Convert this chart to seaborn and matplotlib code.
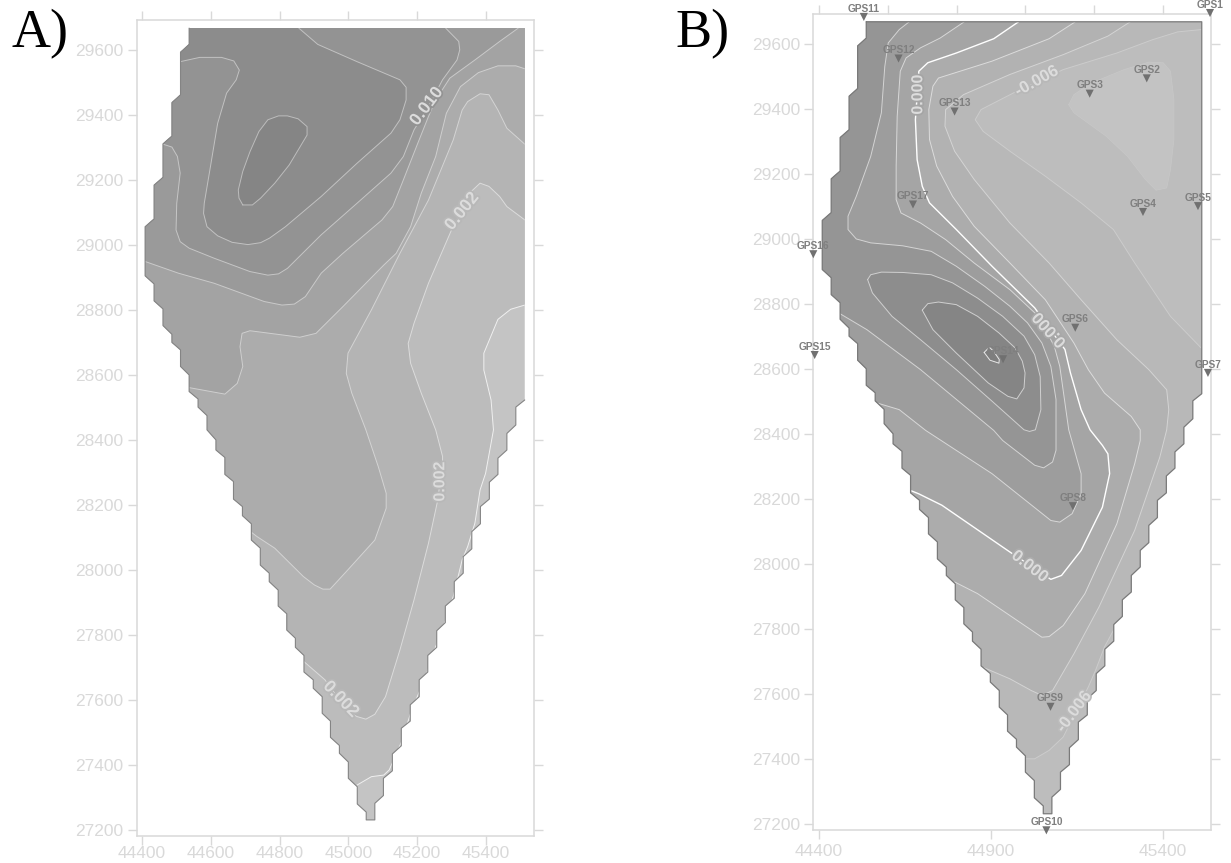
import matplotlib
matplotlib.use('Agg')
import matplotlib.pyplot as plt
import matplotlib.patheffects as pe
from matplotlib.patches import Polygon
import pandas as pd
import seaborn as sns

# staircase outline of the grid, same for both maps
domain = [(44537,29667),(44537,29617),(44512,29593),(44512,29462),(44487,29438),(44487,29335),(44461,29311),(44461,29208),
          (44435,29184),(44435,29080),(44409,29056),(44409,28905),(44435,28880),(44435,28828),(44461,28803),(44461,28752),
          (44487,28725),(44487,28700),(44512,28677),(44512,28626),(44537,28600),(44537,28549),(44563,28526),(44563,28501),
          (44589,28475),(44589,28431),(44615,28400),(44615,28369),(44641,28346),(44641,28294),(44666,28272),(44666,28218),
          (44692,28195),(44692,28167),(44718,28142),(44718,28092),(44744,28067),(44744,28015),(44770,27990),(44770,27964),
          (44796,27938),(44796,27889),(44821,27865),(44821,27815),(44846,27790),(44846,27762),(44871,27737),(44871,27686),
          (44898,27662),(44898,27636),(44924,27610),(44924,27559),(44948,27535),(44948,27485),(44974,27460),(44974,27436),
          (45000,27409),(45000,27359),(45026,27333),(45026,27280),(45052,27255),(45052,27231),(45077,27231),(45077,27282),
          (45102,27306),(45102,27359),(45128,27382),(45128,27434),(45154,27459),(45154,27513),(45180,27535),(45180,27585),
          (45206,27610),(45206,27662),(45231,27686),(45231,27737),(45257,27762),(45257,27813),(45282,27838),(45282,27889),
          (45308,27913),(45308,27964),(45334,27990),(45334,28041),(45359,28065),(45359,28118),(45384,28142),(45384,28195),
          (45410,28218),(45410,28270),(45435,28294),(45435,28344),(45461,28369),(45461,28420),(45487,28446),(45487,28501),
          (45513,28523),(45513,29667)]

# panel A contours
a1 = [(44693,29123),(44721,29123),(44745,29144),(44786,29190),(44828,29246),(44854,29292),(44880,29338),(44880,29364),
      (44854,29388),(44823,29397),(44797,29397),(44766,29385),(44740,29349),(44714,29287),(44693,29226),(44680,29169),
      (44682,29144),(44693,29123)]
a2 = [(44856,29667),(44911,29617),(45025,29564),(45150,29508),(45168,29485),(45168,29446),(45150,29385),(45124,29344),
      (45025,29251),(44921,29149),(44817,29056),(44771,29021),(44745,29007),(44708,29001),(44662,29008),(44620,29028),
      (44589,29056),(44579,29097),(44581,29128),(44599,29241),(44620,29374),(44646,29467),(44674,29508),(44683,29538),
      (44667,29566),(44631,29577),(44568,29577),(44512,29564)]
a3 = [(45283,29667),(45321,29626),(45324,29600),(45316,29569),(45274,29508),(45233,29426),(45191,29354),(45160,29272),
      (45124,29221),(45025,29128),(44921,29031),(44823,28928),(44797,28911),(44766,28907),(44714,28918),(44610,28959),
      (44537,28990),(44511,29010),(44499,29046),(44501,29128),(44511,29221),(44503,29272),(44487,29301),(44461,29310)]
a4 = [(45494,29667),(45440,29626),(45368,29569),(45295,29513),(45254,29446),(45233,29395),(45202,29313),(45160,29200),
      (45129,29118),(45098,29077),(44984,28974),(44921,28913),(44875,28841),(44843,28818),(44807,28815),(44755,28826),
      (44610,28882),(44506,28913),(44409,28949)]
a5 = [(45513,29542),(45487,29551),(45435,29551),(45378,29530),(45326,29487),(45285,29405),(45254,29272),(45212,29159),
      (45181,29056),(45139,28974),(45103,28938),(44984,28810),(44906,28728),(44859,28716),(44714,28736),(44691,28728),
      (44685,28687),(44693,28626),(44677,28574),(44641,28541),(44537,28561)]
a6 = [(45513,29310),(45461,29359),(45435,29415),(45409,29462),(45383,29465),(45347,29441),(45331,29415),(45305,29323),
      (45233,29138),(45150,28974),(45067,28800),(44999,28667),(44994,28605),(45010,28544),(45051,28431),(45087,28318),
      (45110,28236),(45110,28190),(45077,28092),(44994,27995),(44947,27941),(44926,27941),(44901,27954),(44869,27980),
      (44786,28067),(44734,28103),(44718,28116)]
a7 = [(45513,29077),(45461,29118),(45440,29149),(45409,29180),(45383,29190),(45357,29164),(45337,29118),(45300,29046),
      (45233,28882),(45191,28759),(45174,28697),(45181,28636),(45212,28544),(45254,28431),(45274,28349),(45274,28328),
      (45259,28210),(45233,28082),(45191,27908),(45150,27754),(45108,27610),(45077,27556),(45051,27541),(45025,27549),
      (44999,27564),(44932,27662),(44871,27718)]
a8 = [(45513,28815),(45472,28802),(45435,28771),(45394,28667),(45394,28615),(45415,28523),(45422,28431),(45415,28390),
      (45399,28297),(45383,28246),(45368,28144),(45347,28072),(45331,28031),(45305,27918),(45280,27836),(45254,27764),
      (45228,27682),(45181,27559),(45155,27472),(45119,27385),(45103,27369),(45067,27364),(45025,27338)]

# panel B contours
b1 = [(44880,28650),(44895,28666),(44908,28653),(44924,28628),(44923,28617),(44897,28626),(44880,28650)]
b2 = [(44700,28780),(44716,28800),(44747,28805),(44799,28797),(44861,28761),(44923,28710),(44970,28664),(44991,28623),
      (44999,28587),(44996,28541),(44975,28507),(44949,28515),(44892,28556),(44799,28648),(44731,28720),(44700,28780)]
b3 = [(44541,28874),(44550,28889),(44581,28897),(44643,28896),(44726,28889),(44788,28864),(44861,28817),(44934,28761),
      (44996,28700),(45027,28643),(45043,28576),(45045,28474),(45029,28412),(45012,28407),(44996,28412),(44903,28500),
      (44799,28597),(44695,28689),(44612,28761),(44555,28833),(44541,28874)]
b4 = [(44662,29667),(44633,29643),(44601,29602),(44591,29530),(44581,29387),(44550,29253),(44508,29130),(44484,29069),
      (44484,29028),(44508,28999),(44550,28987),(44643,28978),(44726,28961),(44799,28915),(44882,28853),(44955,28792),
      (45006,28741),(45048,28679),(45074,28607),(45089,28505),(45089,28412),(45089,28349),(45079,28313),(45053,28295),
      (45027,28303),(44934,28379),(44908,28410),(44695,28597),(44539,28720),(44461,28769)]
b5 = [(44822,29667),(44752,29617),(44695,29587),(44653,29556),(44636,29515),(44627,29376),(44624,29223),(44624,29120),
      (44638,29079),(44695,29048),(44768,28997),(44851,28925),(44955,28843),(45038,28761),(45084,28669),(45100,28607),
      (45126,28412),(45162,28277),(45162,28215),(45136,28154),(45100,28128),(45074,28133),(44903,28277),(44710,28410),
      (44633,28474),(44570,28494)]
b6 = [(44980,29667),(44908,29615),(44799,29571),(44716,29541),(44690,29515),(44680,29366),(44685,29243),(44700,29161),
      (44721,29110),(44799,29028),(44903,28915),(45027,28787),(45115,28659),(45131,28587),(45162,28474),(45188,28412),
      (45224,28364),(45240,28338),(45245,28277),(45224,28174),(45162,28041),(45105,27964),(45074,27952),(44955,28036),
      (44757,28180),(44690,28215),(44669,28224)]
b7 = [(45145,29667),(45069,29615),(44903,29546),(44747,29494),(44731,29469),(44719,29397),(44721,29305),(44742,29223),
      (44788,29130),(44851,29038),(44955,28925),(45058,28812),(45141,28679),(45183,28597),(45230,28525),(45308,28453),
      (45334,28412),(45334,28379),(45318,28308),(45266,28123),(45173,27908),(45110,27810),(45069,27776),(45048,27774),
      (44861,27908),(44794,27944)]
b8 = [(45305,29667),(45240,29623),(45110,29566),(44955,29505),(44820,29443),(44768,29397),(44766,29346),(44794,29269),
      (44851,29182),(44955,29048),(45069,28925),(45162,28812),(45266,28689),(45359,28597),(45411,28535),(45417,28474),
      (45411,28412),(45391,28328),(45318,28103),(45214,27867),(45141,27723),(45079,27610),(45048,27595),(45017,27610),
      (44955,27646),(44871,27684)]
b9 = [(45511,29643),(45443,29636),(45370,29612),(45266,29571),(45110,29520),(44965,29448),(44871,29397),(44854,29366),
      (44877,29330),(44955,29269),(45058,29192),(45162,29110),(45256,29028),(45318,28925),(45422,28761),(45511,28664)]
b10 = [(45001,27400),(45027,27400),(45069,27426),(45110,27467),(45183,27621),(45204,27672),(45230,27744),(45256,27795)]
b11 = [(45126,29412),(45141,29443),(45193,29479),(45287,29520),(45359,29543),(45401,29541),(45422,29515),(45432,29428),
       (45432,29305),(45422,29212),(45411,29156),(45380,29149),(45349,29182),(45297,29253),(45235,29315),(45141,29387),
       (45126,29412)]

# stations
gps_names = ['GPS1','GPS2','GPS3','GPS4','GPS5','GPS6','GPS7','GPS8','GPS9','GPS10','GPS11','GPS12','GPS13','GPS14','GPS15','GPS16','GPS17']
gps_x = [45537,45353,45187,45342,45502,45145,45531,45138,45073,45061,44530,44631,44794,44935,44387,44383,44673]
gps_y = [29694,29493,29446,29082,29100,28726,28587,28177,27560,27180,29682,29554,29391,28629,28642,28952,29105]

x_ticks_a = [44400,44600,44800,45000,45200,45400]
x_ticks_b = [44400,44900,45400]
y_ticks = [27200,27400,27600,27800,28000,28200,28400,28600,28800,29000,29200,29400,29600]

TICK = '#d9d9d9'
FAR_L, FAR_R, FAR_T = 44300, 45650, 29800

sns.set_theme(style='ticks')
plt.rcParams['font.family'] = ['Liberation Sans', 'DejaVu Sans']

fig = plt.figure(figsize=(12.31, 8.63), dpi=100)
W, H = 1231, 863
ax_a = fig.add_axes([136.5/W, 1-836/H, 397.2/W, 816/H])
ax_b = fig.add_axes([813.3/W, 1-830/H, 397.4/W, 816/H])


def setup(ax, xlim, ylim, xticks, xpad):
    ax.set_xlim(*xlim)
    ax.set_ylim(*ylim)
    ax.set_xticks(xticks)
    ax.set_yticks(y_ticks)
    ax.tick_params(length=6.5, width=1, color=TICK, labelcolor=TICK, labelsize=12.5, right=True, pad=3)
    ax.tick_params(axis='x', pad=xpad)
    for s in ax.spines.values():
        s.set_color(TICK)
        s.set_linewidth(1.1)
        s.set_visible(True)


def band(ax, pts, color, clip):
    xs, ys = zip(*pts)
    p = ax.fill(xs, ys, color=color, lw=0, zorder=2)[0]
    p.set_clip_path(clip)


def contour(ax, pts, color, clip, lw=0.7):
    df = pd.DataFrame(pts, columns=['x', 'y'])
    sns.lineplot(data=df, x='x', y='y', sort=False, estimator=None, color=color, lw=lw, ax=ax, zorder=3)
    ax.lines[-1].set_clip_path(clip)


def label(ax, x, y, s, rot, bg, size=11.5):
    ax.text(x, y, s, rotation=rot, rotation_mode='anchor', ha='center', va='center', color='#dcdcdc',
            fontsize=size, fontweight='bold', zorder=5,
            path_effects=[pe.withStroke(linewidth=2.5, foreground=bg)])


def domain_patch(ax, base):
    p = Polygon(domain, closed=True, facecolor=base, edgecolor='none', zorder=1)
    ax.add_patch(p)
    return p


# panel A
setup(ax_a, (44384, 45539), (27181.5, 29692), x_ticks_a, 1)
ax_a.tick_params(top=True)
clip = domain_patch(ax_a, '#c4c4c4')
a_bands = [
    (a8 + [(FAR_L,27338),(FAR_L,FAR_T),(FAR_R,FAR_T),(FAR_R,28815)], '#bcbcbc'),
    (a7 + [(FAR_L,27718),(FAR_L,FAR_T),(FAR_R,FAR_T),(FAR_R,29077)], '#b4b4b4'),
    (a6 + [(FAR_L,28116),(FAR_L,FAR_T),(FAR_R,FAR_T),(FAR_R,29310)], '#acacac'),
    (a5 + [(FAR_L,28561),(FAR_L,FAR_T),(FAR_R,FAR_T),(FAR_R,29542)], '#a3a3a3'),
    (a4 + [(FAR_L,28949),(FAR_L,FAR_T),(45494,FAR_T)], '#9a9a9a'),
    (a3 + [(FAR_L,29310),(FAR_L,FAR_T),(45283,FAR_T)], '#939393'),
    (a2 + [(FAR_L,29564),(FAR_L,FAR_T),(44856,FAR_T)], '#8c8c8c'),
    (a1, '#858585'),
]
for pts, c in a_bands:
    band(ax_a, pts, c, clip)
for pts, c in [(a1,'#bdbdbd'),(a2,'#c2c2c2'),(a3,'#c6c6c6'),(a4,'#cacaca'),(a5,'#cfcfcf'),(a6,'#d4d4d4'),(a7,'#dcdcdc'),(a8,'#f0f0f0')]:
    contour(ax_a, pts, c, clip)
edge_x, edge_y = zip(*domain[:-1])
ax_a.plot(edge_x, edge_y, color='#848484', lw=0.8, zorder=4)
label(ax_a, 45228, 29426, '0.010', 53, '#939393', 12.5)
label(ax_a, 45331, 29103, '0.002', 51, '#b8b8b8', 12.5)
label(ax_a, 45266, 28272, '0.002', 90, '#b8b8b8')
label(ax_a, 44978, 27602, '0.002', -46, '#b8b8b8', 12.5)
ax_a.set_xlabel('')
ax_a.set_ylabel('')

# panel B
setup(ax_b, (44383, 45539), (27181, 29691), x_ticks_b, 3.5)
top_b = ax_b.secondary_xaxis('top')
top_b.set_xticks(x_ticks_a)
top_b.set_xticklabels([])
top_b.tick_params(length=6.5, width=1, color=TICK)
top_b.spines['top'].set_visible(False)
clip = domain_patch(ax_b, '#bdbdbd')
b_bands = [
    (b9 + [(FAR_R,28664),(FAR_R,28412),(45300,27795)] + b10[::-1] + [(FAR_L,27400),(FAR_L,FAR_T),(FAR_R,FAR_T),(FAR_R,29643)], '#b8b8b8'),
    (b8 + [(FAR_L,27684),(FAR_L,FAR_T),(45305,FAR_T)], '#b2b2b2'),
    (b7 + [(FAR_L,27944),(FAR_L,FAR_T),(45145,FAR_T)], '#acacac'),
    (b6 + [(FAR_L,28224),(FAR_L,FAR_T),(44980,FAR_T)], '#a5a5a5'),
    (b5 + [(FAR_L,28494),(FAR_L,FAR_T),(44822,FAR_T)], '#9d9d9d'),
    (b4 + [(FAR_L,28769),(FAR_L,FAR_T),(44662,FAR_T)], '#959595'),
    (b3, '#8d8d8d'),
    (b2, '#858585'),
    (b1, '#7e7e7e'),
    (b11, '#c3c3c3'),
]
for pts, c in b_bands:
    band(ax_b, pts, c, clip)
for pts, c, w in [(b1,'#e8e8e8',0.7),(b2,'#d0d0d0',0.7),(b3,'#d0d0d0',0.7),(b4,'#d4d4d4',0.7),(b5,'#d8d8d8',0.7),
                  (b6,'#ffffff',1.0),(b7,'#dcdcdc',0.7),(b8,'#d4d4d4',0.7),(b9,'#cccccc',0.7),(b10,'#cccccc',0.7),(b11,'#c8c8c8',0.5)]:
    contour(ax_b, pts, c, clip, w)
edge_x, edge_y = zip(*(domain + domain[:1]))
ax_b.plot(edge_x, edge_y, color='#7a7a7a', lw=0.9, zorder=4)
label(ax_b, 44687, 29443, '0.000', 90, '#a5a5a5')
label(ax_b, 45032, 29484, '-0.006', 29, '#b8b8b8', 12)
label(ax_b, 45071, 28720, '0.000', 132, '#a8a8a8', 12)
label(ax_b, 45012, 27992, '0.000', -38, '#acacac', 12)
label(ax_b, 45141, 27544, '-0.006', 53, '#bcbcbc', 12)

gps = pd.DataFrame({'name': gps_names, 'x': gps_x, 'y': gps_y})
sns.scatterplot(data=gps, x='x', y='y', marker='v', s=34, color='#707070', edgecolor='none', clip_on=False, zorder=6, ax=ax_b)
for _, r in gps.iterrows():
    ax_b.annotate(r['name'], (r['x'], r['y']), textcoords='offset points', xytext=(0, 6), ha='center', va='center',
                  fontsize=7.3, fontweight='bold', color='#7f7f7f', zorder=6, annotation_clip=False)
ax_b.set_xlabel('')
ax_b.set_ylabel('')

fig.text(11/W, 1-47/H, 'A)', family='Liberation Serif', fontsize=39, color='black')
fig.text(675/W, 1-47/H, 'B)', family='Liberation Serif', fontsize=39, color='black')

fig.savefig('out.png', dpi=100)
